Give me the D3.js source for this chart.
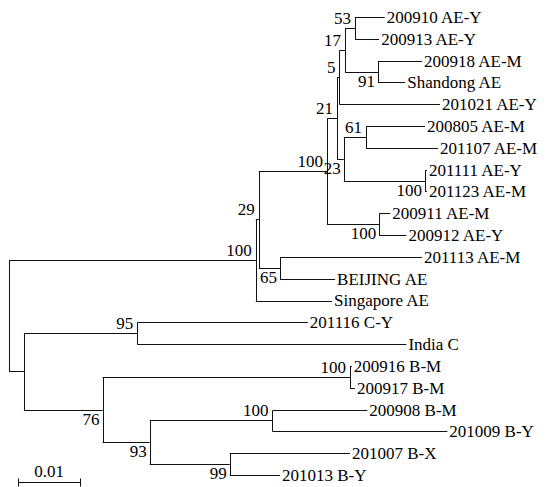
<!DOCTYPE html>
<html>
<head>
<meta charset="utf-8">
<script src="https://cdn.jsdelivr.net/npm/d3@7/dist/d3.min.js"></script>
<style>
  body { margin: 0; background: #fff; }
</style>
</head>
<body>
<div id="chart"></div>
<script>
// tree as parent table (child order = drawing order top -> bottom)
const nodeIds = [
  'root', 'nAE', 'n29', 'nA', 'n21', 'n5', 'n17', 'n53',
  '200910 AE-Y', '200913 AE-Y', 'n91', '200918 AE-M', 'Shandong AE', '201021 AE-Y',
  'n23', 'n61', '200805 AE-M', '201107 AE-M', 'n100c', '201111 AE-Y', '201123 AE-M',
  'n100b', '200911 AE-M', '200912 AE-Y', 'n65', '201113 AE-M', 'BEIJING AE', 'Singapore AE',
  'nCB', 'n95', '201116 C-Y', 'India C', 'n76', 'n100d', '200916 B-M', '200917 B-M',
  'n93', 'n100e', '200908 B-M', '201009 B-Y', 'n99', '201007 B-X', '201013 B-Y'
];
const parentIds = [
  '', 'root', 'nAE', 'n29', 'nA', 'n21', 'n5', 'n17',
  'n53', 'n53', 'n17', 'n91', 'n91', 'n5',
  'n21', 'n23', 'n61', 'n61', 'n23', 'n100c', 'n100c',
  'nA', 'n100b', 'n100b', 'n29', 'n65', 'n65', 'nAE',
  'root', 'nCB', 'n95', 'n95', 'nCB', 'n76', 'n100d', 'n100d',
  'n76', 'n93', 'n100e', 'n100e', 'n93', 'n99', 'n99'
];
const branchLengths = [
  0, 0.0398, 0.0005, 0.0110, 0.0016, 0.0004, 0.0009, 0.0016,
  0.0048, 0.0039, 0.0053, 0.0071, 0.0044, 0.0162,
  0.0011, 0.0036, 0.0095, 0.0116, 0.0131, 0.0003, 0.0003,
  0.0084, 0.0018, 0.0044, 0.0034, 0.0229, 0.0089, 0.0123,
  0.0024, 0.0183, 0.0275, 0.0434, 0.0127, 0.0399, 0.0003, 0.0008,
  0.0076, 0.0198, 0.0153, 0.0282, 0.0129, 0.0194, 0.0081
];
const bootstrap = [
  null, 100, 29, 100, 21, 5, 17, 53,
  null, null, 91, null, null, null,
  23, 61, null, null, 100, null, null,
  100, null, null, 65, null, null, null,
  null, 95, null, null, 76, 100, null, null,
  93, 100, null, null, 99, null, null
];
const scaleBarValue = 0.01;
const scaleBarLabel = '0.01';

const width = 551;
const height = 487;
const font = '"Liberation Serif", "Times New Roman", Times, "DejaVu Serif", serif';

const table = nodeIds.map((id, i) => ({
  id: id, parent: parentIds[i] || null, len: branchLengths[i], boot: bootstrap[i]
}));

const root = d3.stratify()
  .id(d => d.id)
  .parentId(d => d.parent)(table);

// cumulative distance from the root
root.eachBefore(n => { n.dist = n.parent ? n.parent.dist + n.data.len : 0; });

const leaves = root.leaves();

const x = d3.scaleLinear()
  .domain([0, 0.07])
  .range([9, 9 + 434]);

const y = d3.scalePoint()
  .domain(leaves.map(d => d.id))
  .range([17, 475]);

root.eachAfter(n => {
  if (!n.children) n.py = y(n.id);
  else n.py = (n.children[0].py + n.children[n.children.length - 1].py) / 2;
});

const svg = d3.select('#chart')
  .append('svg')
  .attr('width', width)
  .attr('height', height)
  .attr('font-family', font)
  .attr('font-size', 17);

const g = svg.append('g');

// horizontal branches
g.selectAll('.hbranch')
  .data(root.descendants().filter(d => d.parent))
  .enter().append('line')
    .attr('class', 'hbranch')
    .attr('x1', d => x(d.parent.dist))
    .attr('x2', d => x(d.dist))
    .attr('y1', d => Math.round(d.py) + 0.5)
    .attr('y2', d => Math.round(d.py) + 0.5)
    .style('stroke', '#111')
    .style('stroke-width', 1);

// vertical connectors
g.selectAll('.vbranch')
  .data(root.descendants().filter(d => d.children))
  .enter().append('line')
    .attr('class', 'vbranch')
    .attr('x1', d => Math.round(x(d.dist)) + 0.5)
    .attr('x2', d => Math.round(x(d.dist)) + 0.5)
    .attr('y1', d => Math.round(d.children[0].py) + 0.5)
    .attr('y2', d => Math.round(d.children[d.children.length - 1].py) + 0.5)
    .style('stroke', '#111')
    .style('stroke-width', 1);

// leaf names
g.selectAll('.leaf')
  .data(leaves)
  .enter().append('text')
    .attr('class', 'leaf')
    .attr('x', d => x(d.dist) + 2)
    .attr('y', d => d.py)
    .attr('dy', '0.35em')
    .attr('fill', '#000')
    .text(d => d.id);

// bootstrap values: above branch for upper child, below for lower child
g.selectAll('.boot')
  .data(root.descendants().filter(d => d.data.boot != null))
  .enter().append('text')
    .attr('class', 'boot')
    .attr('text-anchor', 'end')
    .attr('fill', '#000')
    .attr('x', d => {
      const upper = d.parent && d.parent.children[0] === d;
      return x(d.dist) - (upper ? 4 : 3);
    })
    .attr('y', d => {
      const upper = d.parent && d.parent.children[0] === d;
      return upper ? d.py - 4 : d.py + 15;
    })
    .text(d => d.data.boot);

// scale bar
const barX0 = 18;
const barX1 = barX0 + (x(scaleBarValue) - x(0));
const barY = 482.5;
const bar = svg.append('g');
bar.append('line')
  .attr('x1', barX0).attr('x2', barX1)
  .attr('y1', barY).attr('y2', barY)
  .style('stroke', '#111');
[barX0, barX1].forEach(bx => {
  bar.append('line')
    .attr('x1', Math.round(bx) + 0.5).attr('x2', Math.round(bx) + 0.5)
    .attr('y1', barY - 4).attr('y2', barY + 4)
    .style('stroke', '#111');
});
bar.append('text')
  .attr('x', (barX0 + barX1) / 2)
  .attr('y', barY - 6)
  .attr('text-anchor', 'middle')
  .attr('fill', '#000')
  .text(scaleBarLabel);
</script>
</body>
</html>
